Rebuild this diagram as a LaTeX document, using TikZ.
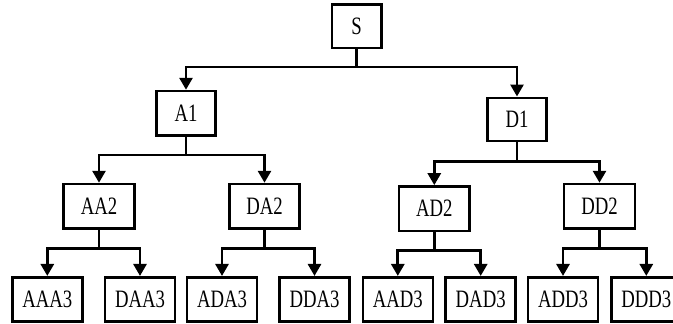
\documentclass[tikz,border=0pt]{standalone}
\usepackage{fontspec}
\setmainfont{Liberation Serif}[FakeStretch=0.75]
\usetikzlibrary{arrows.meta}
\begin{document}
\begin{tikzpicture}[x=1pt,y=-1pt,
  box/.style={draw, line width=2.6pt, minimum width=#1, minimum height=44.5pt,
    inner sep=0pt, font=\fontsize{25}{25}\selectfont},
  box/.default=70pt,
  link/.style={line width=2.8pt, -{Triangle[width=13pt,length=12pt]}}]
\useasboundingbox (0,0) rectangle (673,324);
\clip (0,0) rectangle (673,324);

% root
\node[box=49.5pt, minimum height=43.5pt] (S) at (356.7,26.2) {S};
% level 1
\node[box=58.5pt] (A1) at (186,113.3) {A1};
\node[box=59.5pt, minimum height=43pt] (D1) at (517,119.3) {D1};
% level 2
\node[box=71.5pt] (AA2) at (99,206.3) {AA2};
\node[box=70pt] (DA2) at (264.5,206.3) {DA2};
\node[box=70.5pt] (AD2) at (434.3,208.7) {AD2};
\node[box=71pt] (DD2) at (599.5,206.3) {DD2};
% level 3
\node[box] (AAA3) at (47.3,299.5) {AAA3};
\node[box] (DAA3) at (140,299.5) {DAA3};
\node[box] (ADA3) at (222,299.5) {ADA3};
\node[box] (DDA3) at (314.5,299.5) {DDA3};
\node[box] (AAD3) at (397.8,299.5) {AAD3};
\node[box] (DAD3) at (480.7,299.5) {DAD3};
\node[box] (ADD3) at (563,299.5) {ADD3};
\node[box] (DDD3) at (646.3,299.5) {DDD3};

% connectors: stem down, across, then down into each child
\foreach \p/\c/\y in {S/A1/67, S/D1/67,
    A1/AA2/155, A1/DA2/155, D1/AD2/161.7, D1/DD2/161.7,
    AA2/AAA3/248.3, AA2/DAA3/248.3, DA2/ADA3/248.3, DA2/DDA3/248.3,
    AD2/AAD3/250.7, AD2/DAD3/250.7, DD2/ADD3/248.3, DD2/DDD3/248.3}
  \draw[link] (\p.south) |- (\c.north |- 0,\y) -- (\c.north);
\end{tikzpicture}
\end{document}
